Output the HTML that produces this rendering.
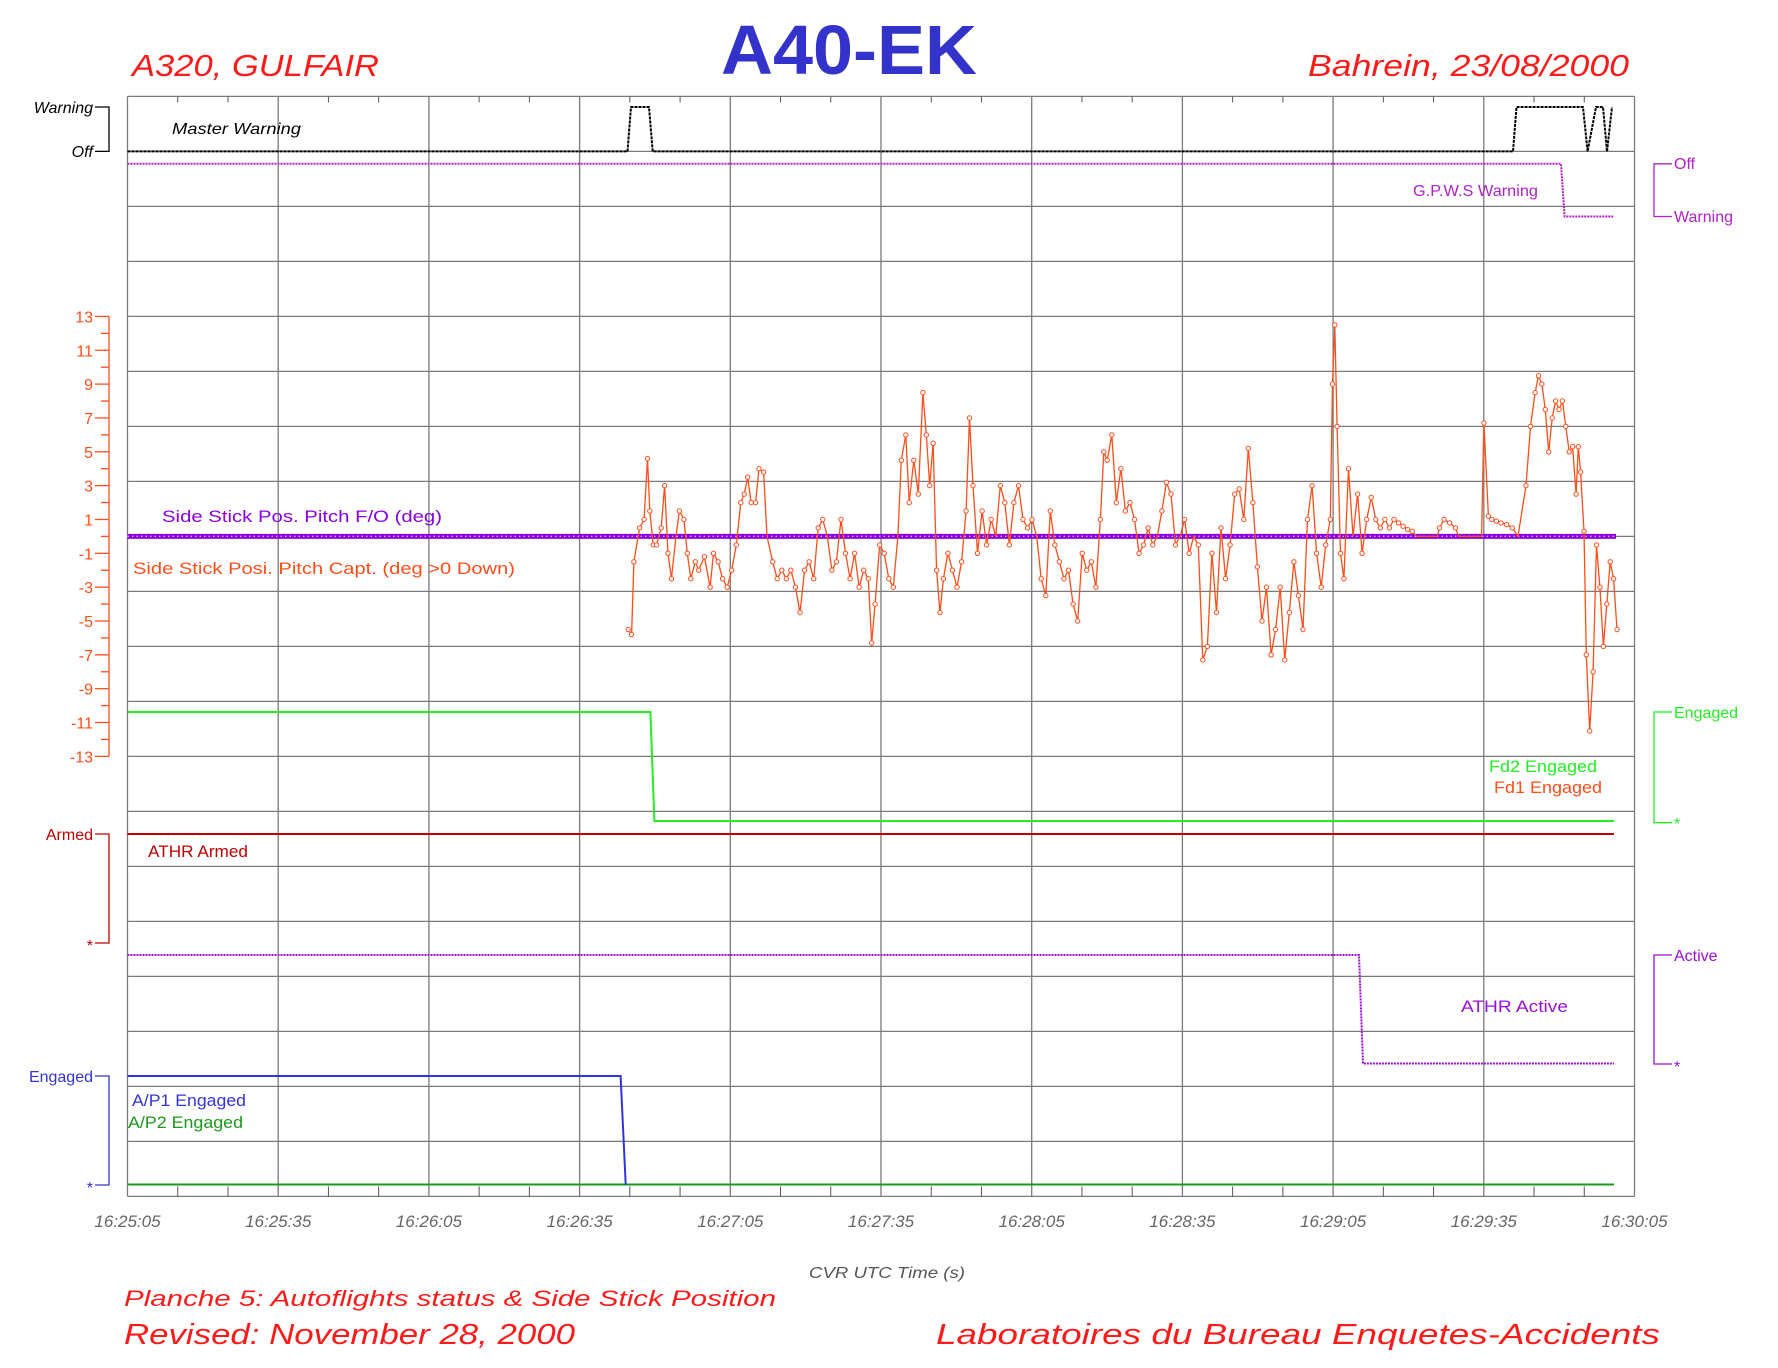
<!DOCTYPE html>
<html><head><meta charset="utf-8">
<style>
html,body{margin:0;padding:0;background:#fff;}
svg{display:block;}
text{font-family:"Liberation Sans",sans-serif;}
</style></head>
<body>
<svg id="s" width="1778" height="1368" viewBox="0 0 1778 1368" xmlns="http://www.w3.org/2000/svg">
<rect width="1778" height="1368" fill="#fff"/>
<g id="grid" stroke="#7a7a7a" stroke-width="1.3" fill="none"></g>
<g id="ticks" stroke="#555" stroke-width="1" fill="none"></g>

<text x="849" y="74" font-size="70" font-weight="bold" fill="#3333cc" text-anchor="middle" textLength="256" lengthAdjust="spacingAndGlyphs">A40-EK</text>
<text x="132" y="76" font-size="31" font-style="italic" fill="#ff1a1a" textLength="247" lengthAdjust="spacingAndGlyphs">A320, GULFAIR</text>
<text x="1308" y="76" font-size="31" font-style="italic" fill="#ff1a1a" textLength="321" lengthAdjust="spacingAndGlyphs">Bahrein, 23/08/2000</text>

<g font-size="16" font-style="italic" fill="#000" text-anchor="end">
<text x="93" y="113">Warning</text>
<text x="93" y="157">Off</text>
</g>
<path d="M95 107H109V151.4H95" stroke="#000" stroke-width="1.3" fill="none"/>

<path d="M1672 163.8H1654V216.5H1672" stroke="#b020c8" stroke-width="1.3" fill="none"/>
<g font-size="16" fill="#b020c8"><text x="1674" y="169">Off</text><text x="1674" y="222">Warning</text></g>

<g id="pitch" stroke="#ff4d1a" stroke-width="1.3" fill="none"></g>
<g id="pitchlbl" font-size="16" fill="#ff4d1a" text-anchor="end"></g>

<path d="M1672 712H1654V822.7H1672" stroke="#22ee22" stroke-width="1.3" fill="none"/>
<g font-size="16" fill="#22ee22"><text x="1674" y="718">Engaged</text><text x="1674" y="829">*</text></g>

<path d="M95 834H109V943H95" stroke="#c00000" stroke-width="1.3" fill="none"/>
<g font-size="16" fill="#c00000" text-anchor="end"><text x="93" y="840">Armed</text><text x="93" y="951">*</text></g>

<path d="M1672 955H1654V1064H1672" stroke="#9a10d8" stroke-width="1.3" fill="none"/>
<g font-size="16" fill="#9a10d8"><text x="1674" y="961">Active</text><text x="1674" y="1072">*</text></g>

<path d="M95 1076H109V1185H95" stroke="#3333dd" stroke-width="1.3" fill="none"/>
<g font-size="16" fill="#3333dd" text-anchor="end"><text x="93" y="1082">Engaged</text><text x="93" y="1193">*</text></g>

<g fill="none" stroke-width="2">
<path d="M127.5 151.4H627.5L631 107H649L652.7 151.4H1513L1516.5 107H1583L1587.6 151.4L1596 107H1603L1607 151.4L1612 107" stroke="#000" stroke-dasharray="3 1"/>
<path d="M127.5 163.8H1561L1564.6 216.5H1614" stroke="#b020c8" stroke-dasharray="2 1"/>
<path d="M127.5 712H650.4L654.4 821H1614" stroke="#22ee22"/>
<path d="M127.5 834H1614" stroke="#c00000"/>
<path d="M127.5 955H1359L1363 1063.5H1614" stroke="#9a10d8" stroke-dasharray="2 1"/>
<path d="M127.5 1184.5H1614" stroke="#1a9a1a"/>
<path d="M127.5 1076H620.6L625.7 1184.5" stroke="#3333dd"/>
</g>

<line x1="127.5" y1="536.4" x2="1616" y2="536.4" stroke="#8a00e0" stroke-width="5"/>
<line x1="127.5" y1="536.4" x2="1616" y2="536.4" stroke="#d8a0ff" stroke-width="1.5" stroke-dasharray="1.5 3"/>

<g id="capt"></g>

<text x="172" y="134" font-size="16" font-style="italic" fill="#000" textLength="129" lengthAdjust="spacingAndGlyphs">Master Warning</text>
<text x="1413" y="196" font-size="16" fill="#b020c8" textLength="125" lengthAdjust="spacingAndGlyphs">G.P.W.S Warning</text>
<text x="162" y="522" font-size="17" fill="#8a00e0" textLength="280" lengthAdjust="spacingAndGlyphs">Side Stick Pos. Pitch F/O (deg)</text>
<text x="133" y="574" font-size="17" fill="#ff4d1a" textLength="382" lengthAdjust="spacingAndGlyphs">Side Stick Posi. Pitch Capt. (deg &gt;0 Down)</text>
<text x="1489" y="772" font-size="17" fill="#22ee22" textLength="108" lengthAdjust="spacingAndGlyphs">Fd2 Engaged</text>
<text x="1494" y="793" font-size="17" fill="#ff4d1a" textLength="108" lengthAdjust="spacingAndGlyphs">Fd1 Engaged</text>
<text x="148" y="857" font-size="17" fill="#c00000" textLength="100" lengthAdjust="spacingAndGlyphs">ATHR Armed</text>
<text x="1461" y="1012" font-size="17" fill="#9a10d8" textLength="107" lengthAdjust="spacingAndGlyphs">ATHR Active</text>
<text x="132" y="1106" font-size="17" fill="#3333dd" textLength="114" lengthAdjust="spacingAndGlyphs">A/P1 Engaged</text>
<text x="128" y="1128" font-size="17" fill="#1a9a1a" textLength="115" lengthAdjust="spacingAndGlyphs">A/P2 Engaged</text>

<g id="xl" font-size="17" font-style="italic" fill="#666" text-anchor="middle"></g>
<text x="887" y="1278" font-size="16" font-style="italic" fill="#555" text-anchor="middle" textLength="156" lengthAdjust="spacingAndGlyphs">CVR UTC Time (s)</text>

<text x="124" y="1306" font-size="22" font-style="italic" fill="#ff1a1a" textLength="652" lengthAdjust="spacingAndGlyphs">Planche 5: Autoflights status &amp; Side Stick Position</text>
<text x="124" y="1344" font-size="29" font-style="italic" fill="#ff1a1a" textLength="451" lengthAdjust="spacingAndGlyphs">Revised: November 28, 2000</text>
<text x="936" y="1344" font-size="29" font-style="italic" fill="#ff1a1a" textLength="724" lengthAdjust="spacingAndGlyphs">Laboratoires du Bureau Enquetes-Accidents</text>
</svg>
<script>
(function(){
var NS="http://www.w3.org/2000/svg";
function el(p,t,a,txt){var e=document.createElementNS(NS,t);for(var k in a)e.setAttribute(k,a[k]);if(txt!=null)e.textContent=txt;p.appendChild(e);return e;}
var DX=150.7,X0=127.5,X1=X0+10*DX,Y0=96.4,DY=55;
var g=document.getElementById('grid');
for(var k=0;k<=20;k++){var y=Y0+k*DY;el(g,'line',{x1:X0,x2:X1,y1:y,y2:y});}
for(var i=0;i<=10;i++){var x=X0+i*DX;el(g,'line',{x1:x,x2:x,y1:Y0,y2:Y0+20*DY});}
var t=document.getElementById('ticks');
for(var j=0;j<=30;j++){if(j%3==0)continue;var x=X0+j*DX/3;el(t,'line',{x1:x,x2:x,y1:Y0,y2:Y0+6});el(t,'line',{x1:x,x2:x,y1:Y0+1100,y2:Y0+1090});}
var labels=["16:25:05","16:25:35","16:26:05","16:26:35","16:27:05","16:27:35","16:28:05","16:28:35","16:29:05","16:29:35","16:30:05"];
var xl=document.getElementById('xl');
for(var i=0;i<=10;i++)el(xl,'text',{x:X0+i*DX,y:1227},labels[i]);
var ZY=536.4,PU=16.92;
var p=document.getElementById('pitch'),pl=document.getElementById('pitchlbl');
el(p,'line',{x1:109,x2:109,y1:ZY-13*PU,y2:ZY+13*PU});
for(var v=-13;v<=13;v++){var y=ZY-v*PU;var odd=Math.abs(v)%2==1;el(p,'line',{x1:odd?95:101,x2:109,y1:y,y2:y});if(odd)el(pl,'text',{x:93,y:y+6},String(v));}
var d=[553,-5.5,556,-5.8,558,-1.5,563,0.5,567,1,570,4.6,572,1.5,575,-0.5,578,-0.5,582,0.5,585,3,588,-1,591,-2.5,595,0,598,1.5,602,1,605,-1,608,-2.5,612,-1.5,615,-2,620,-1.2,625,-3,628,-1,632,-1.5,636,-2.5,640,-3,644,-2,648,-0.5,652,2,655,2.5,658,3.5,661,2,665,2,668,4,672,3.8,675,0,680,-1.5,684,-2.5,688,-2,692,-2.5,696,-2,700,-3,704,-4.5,708,-2,712,-1.5,716,-2.5,720,0.5,724,1,728,0,732,-2,736,-1.5,740,1,744,-1,748,-2.5,752,-1,756,-3,760,-2,764,-2.5,767,-6.3,770,-4,774,-0.5,778,-1,782,-2.5,786,-3,790,0,793,4.5,797,6,800,2,804,4.5,808,2.5,812,8.5,815,6,818,3,821,5.5,824,-2,827,-4.5,830,-2.5,834,-1,838,-2,842,-3,846,-1.5,850,1.5,853,7,856,3,860,-1,864,1.5,868,-0.5,872,1,876,0,880,3,884,2,888,-0.5,892,2,896,3,900,1,904,0.5,908,1,912,0,916,-2.5,920,-3.5,924,1.5,928,-0.5,932,-1.5,936,-2.5,940,-2,944,-4,948,-5,952,-1,956,-2,960,-1.5,964,-3,968,1,971,5,974,4.5,978,6,982,2,986,4,990,1.5,994,2,998,1,1002,-1,1006,-0.5,1010,0.5,1014,-0.5,1018,0,1022,1.5,1026,3.2,1030,2.5,1034,-0.5,1038,0,1042,1,1046,-1,1050,0,1054,-0.5,1058,-7.3,1062,-6.5,1066,-1,1070,-4.5,1074,0.5,1078,-2.5,1082,-0.5,1086,2.5,1090,2.8,1094,1,1098,5.2,1102,2,1106,-1.8,1110,-5,1114,-3,1118,-7,1122,-5.5,1126,-3,1130,-7.3,1134,-4.5,1138,-1.5,1142,-3.5,1146,-5.5,1150,1,1154,3,1158,-1,1162,-3,1166,-0.5,1170,1,1172,9,1174,12.5,1176,6.5,1179,-1,1182,-2.5,1186,4,1190,0,1194,2.5,1198,-1,1202,1,1206,2.3,1210,1,1214,0.5,1218,1,1222,0.5,1226,1,1230,0.8,1234,0.6,1238,0.4,1242,0.3,1246,0,1264,0,1266,0.5,1270,1,1275,0.8,1280,0.5,1283,0,1303,0,1305,6.7,1309,1.2,1312,1,1316,0.9,1320,0.8,1325,0.7,1330,0.5,1335,0,1342,3,1346,6.5,1350,8.5,1353,9.5,1356,9,1359,7.5,1362,5,1365,7,1368,8,1371,7.5,1374,8,1377,6.5,1380,5,1383,5.3,1386,2.5,1388,5.3,1390,3.8,1393,0.3,1395,-7,1398,-11.5,1401,-8,1404,-0.5,1407,-3,1410,-6.5,1413,-4,1416,-1.5,1419,-2.5,1422,-5.5];
var S=1510/1327,pts=[];
for(var i=0;i<d.length;i+=2){pts.push([X0+(d[i]-113)*S,ZY-d[i+1]*PU]);}
var c=document.getElementById('capt');
el(c,'path',{d:'M'+pts.map(function(q){return q[0].toFixed(1)+' '+q[1].toFixed(1);}).join('L'),fill:'none',stroke:'#ff4d1a','stroke-width':1.3});
pts.forEach(function(q){if(Math.abs(q[1]-ZY)>0.5)el(c,'circle',{cx:q[0].toFixed(1),cy:q[1].toFixed(1),r:2.2,fill:'#fff',stroke:'#ff4d1a','stroke-width':1});});
})();
</script>
</body></html>
